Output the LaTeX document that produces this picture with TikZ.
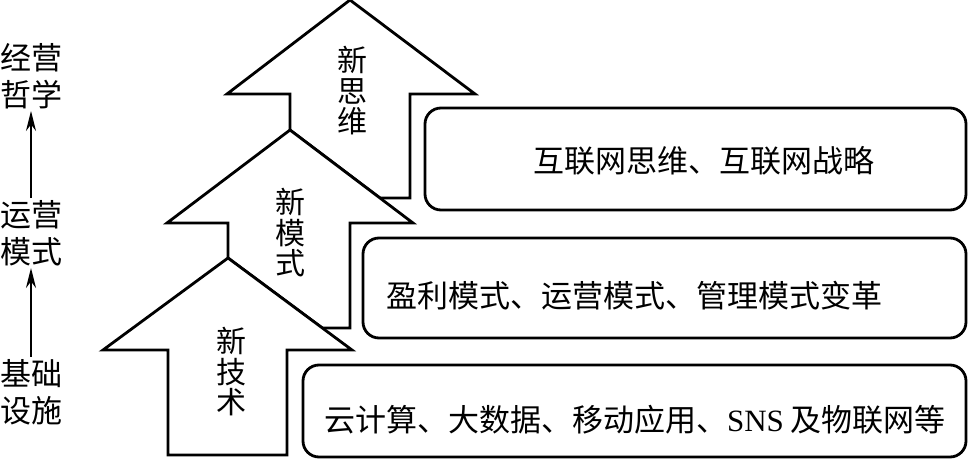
\documentclass[tikz,border=0pt]{standalone}
\usepackage{fontspec}
\setmainfont{Liberation Serif}
\newfontfamily\cjk{Noto Sans CJK SC}
\newfontfamily\latin{Liberation Serif}
\usetikzlibrary{arrows.meta}
\begin{document}
\begin{tikzpicture}[x=1pt,y=-1pt]
\tikzset{
  bigarrow/.style={draw, line width=2.8pt, fill=white, line join=miter},
  rbox/.style={draw, line width=2.8pt, rounded corners=16pt, inner sep=0pt},
  boxtext/.style={font=\cjk\fontsize{31}{37}\selectfont, inner sep=0pt},
  sidelbl/.style={font=\cjk\fontsize{31}{37}\selectfont, align=center, inner sep=2pt},
  vlbl/.style={font=\cjk\fontsize{30}{30.5}\selectfont, align=center, inner sep=0pt},
  uparrow/.style={-{Stealth[length=20pt,width=10pt]}, line width=2.2pt}
}
\useasboundingbox (0,0) rectangle (969,468);
% right boxes
\node[rbox, minimum width=541pt, minimum height=102pt] (b1) at (695.5,159) {};
\node[rbox, minimum width=603pt, minimum height=100pt] (b2) at (664.5,288) {};
\node[rbox, minimum width=663pt, minimum height=92pt] (b3) at (634.5,411) {};
\node[boxtext] (t1) at (704,161) {互联网思维、互联网战略};
\node[boxtext] (t2) at (634,296) {盈利模式、运营模式、管理模式变革};
\node[boxtext] (t3) at (635,420) {云计算、大数据、移动应用、{\latin SNS} 及物联网等};
% big arrows
\draw[bigarrow] (290,130) -- (290,94) -- (227,94) -- (350,0) -- (475,94) -- (410,94) -- (410,198) -- (380,198) -- cycle;
\draw[bigarrow] (228,258) -- (228,223) -- (167,223) -- (290,130) -- (413,223) -- (350,223) -- (350,328) -- (322.3,328) -- cycle;
\draw[bigarrow] (168,455) -- (168,350) -- (103,350) -- (228,258) -- (352,350) -- (287,350) -- (287,455) -- cycle;
\node[vlbl] (a3) at (352,91) {新\\思\\维};
\node[vlbl] (a2) at (290,233) {新\\模\\式};
\node[vlbl] (a1) at (231,372) {新\\技\\术};
% left column
\node[sidelbl] (l3) at (31,76) {经营\\哲学};
\node[sidelbl] (l2) at (31,233) {运营\\模式};
\node[sidelbl] (l1) at (31,392) {基础\\设施};
\draw[uparrow] (l1) -- (l2);
\draw[uparrow] (l2) -- (l3);
\end{tikzpicture}
\end{document}
